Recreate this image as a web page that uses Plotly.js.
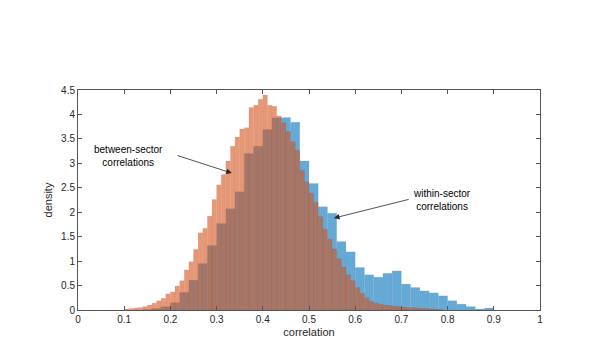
<!DOCTYPE html>
<html>
<head>
<meta charset="utf-8">
<script src="https://cdn.plot.ly/plotly-3.0.1.min.js"></script>
<style>
  html, body { margin: 0; padding: 0; background: #fff; }
  #chart { width: 598px; height: 360px; }
</style>
</head>
<body>
<div id="chart"></div>
<script>
  // within-sector correlations: bins of 0.02 starting at 0.14
  const withinStart = 0.14;
  const withinWidth = 0.02;
  const withinDensity = [
    0.01, 0.03, 0.07, 0.15, 0.36, 0.61, 0.95, 1.32, 1.77, 2.07,
    2.42, 3.20, 3.35, 3.69, 3.93, 3.94, 3.84, 3.05, 2.59, 2.11,
    1.98, 1.40, 1.19, 0.87, 0.72, 0.67, 0.75, 0.80, 0.53, 0.46,
    0.39, 0.35, 0.29, 0.19, 0.12, 0.07, 0.02, 0.04,
  ];

  // between-sector correlations: bins of 0.01 starting at 0.10
  const betweenStart = 0.10;
  const betweenWidth = 0.01;
  const betweenDensity = [
    0.02, 0.03, 0.04, 0.05, 0.07, 0.10, 0.14, 0.19, 0.24, 0.33,
    0.37, 0.49, 0.60, 0.82, 0.99, 1.24, 1.58, 1.67, 1.92, 2.26,
    2.56, 2.77, 3.05, 3.35, 3.54, 3.70, 3.73, 4.14, 4.19, 4.31,
    4.40, 4.19, 4.17, 3.97, 3.83, 3.65, 3.44, 3.27, 2.86, 2.62,
    2.39, 2.20, 1.91, 1.65, 1.45, 1.25, 1.05, 0.88, 0.72, 0.60,
    0.46, 0.34, 0.25, 0.18, 0.14, 0.12, 0.10, 0.09, 0.08, 0.07,
    0.06, 0.05, 0.05, 0.04, 0.03, 0.03, 0.02, 0.02, 0.01,
  ];

  const withinX = withinDensity.map((_, i) => withinStart + withinWidth * (i + 0.5));
  const betweenX = betweenDensity.map((_, i) => betweenStart + betweenWidth * (i + 0.5));

  const edge = { color: "rgba(0,0,0,0.18)", width: 0.5 };

  const traces = [
    {
      type: "bar",
      x: withinX,
      y: withinDensity,
      width: withinWidth,
      marker: { color: "rgb(0,114,189)", line: edge },
      opacity: 0.6,
      name: "within-sector",
      hoverinfo: "x+y",
    },
    {
      type: "bar",
      x: betweenX,
      y: betweenDensity,
      width: betweenWidth,
      marker: { color: "rgb(217,83,25)", line: edge },
      opacity: 0.6,
      name: "between-sector",
      hoverinfo: "x+y",
    },
  ];

  const axisFont = { family: "Liberation Sans, Arial, sans-serif", size: 10, color: "#262626" };
  const axisCommon = {
    showgrid: false,
    zeroline: false,
    showline: true,
    linecolor: "#555",
    linewidth: 1,
    mirror: "ticks",
    ticks: "inside",
    ticklen: 4,
    tickcolor: "#555",
    tickfont: axisFont,
  };

  const layout = {
    width: 598,
    height: 360,
    margin: { l: 78, r: 58, t: 90, b: 50 },
    paper_bgcolor: "#fff",
    plot_bgcolor: "#fff",
    barmode: "overlay",
    bargap: 0,
    showlegend: false,
    font: { family: "Liberation Sans, Arial, sans-serif", size: 10, color: "#262626" },
    xaxis: Object.assign({}, axisCommon, {
      range: [0, 1],
      dtick: 0.1,
      tick0: 0,
      title: { text: "correlation", font: { size: 11, color: "#262626" }, standoff: 4 },
    }),
    yaxis: Object.assign({}, axisCommon, {
      range: [0, 4.5],
      dtick: 0.5,
      tick0: 0,
      title: { text: "density", font: { size: 11, color: "#262626" }, standoff: 6 },
    }),
    annotations: [
      {
        x: 0.333, y: 2.80, xref: "x", yref: "y",
        ax: 0.212, ay: 3.17, axref: "x", ayref: "y",
        text: "", showarrow: true,
        arrowhead: 2, arrowsize: 1.4, arrowwidth: 0.8, arrowcolor: "#262626",
      },
      {
        x: 0.554, y: 1.88, xref: "x", yref: "y",
        ax: 0.719, ay: 2.27, axref: "x", ayref: "y",
        text: "", showarrow: true,
        arrowhead: 2, arrowsize: 1.4, arrowwidth: 0.8, arrowcolor: "#262626",
      },
      {
        x: 0.11, y: 3.15, xref: "x", yref: "y",
        text: "between-sector<br>correlations", showarrow: false,
        font: { size: 10, color: "#000" }, align: "center",
      },
      {
        x: 0.788, y: 2.25, xref: "x", yref: "y",
        text: "within-sector<br>correlations", showarrow: false,
        font: { size: 10, color: "#000" }, align: "center",
      },
    ],
  };

  Plotly.newPlot("chart", traces, layout, { displayModeBar: false, staticPlot: true });
</script>
</body>
</html>
